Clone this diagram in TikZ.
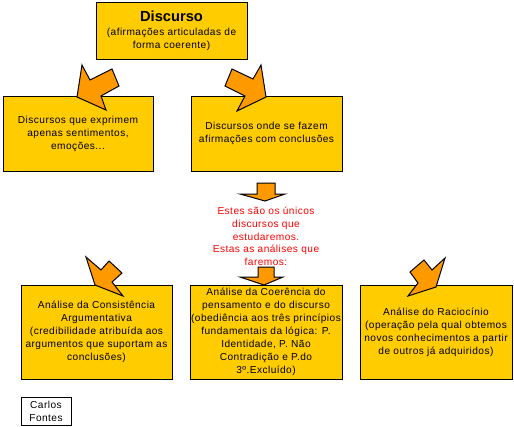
\documentclass[tikz,border=0pt]{standalone}
\usepackage{fontspec}
\setmainfont[LetterSpace=4.5]{Liberation Sans}
\newfontfamily\titlefont{Liberation Sans}
\definecolor{boxyellow}{RGB}{255,204,0}
\definecolor{arroworange}{RGB}{255,153,0}
\definecolor{textred}{RGB}{255,0,0}

\begin{document}
\begin{tikzpicture}[x=0.75pt, y=-0.75pt,
    box/.style={draw=black, fill=boxyellow, line width=0.75pt, align=center, inner sep=0pt,
      font=\fontsize{7.6}{9.75}\selectfont},
    blockarrow/.style={draw=black, fill=arroworange, line width=0.75pt, line join=miter}]
      \useasboundingbox (0,0) rectangle (514,426);

      \node[box, minimum width=113.25pt, minimum height=42.75pt] (discurso) at (171.5, 30.5)
        {{\titlefont\fontsize{11}{13}\selectfont\bfseries Discurso}\\[1pt] (afirmações articuladas de\\ forma coerente)};

      \node[box, minimum width=112.5pt, minimum height=56.25pt] (sentimentos) at (78, 133.5)
        {Discursos que exprimem\\ apenas sentimentos,\\ emoções...};
      \node[box, minimum width=113.25pt, minimum height=56.25pt] (conclusoes) at (266.5, 133.5)
        {Discursos onde se fazem\\ afirmações com conclusões};

      \node[align=center, text=textred, font=\fontsize{7.6}{9.6}\selectfont] (estudaremos) at (266, 236.5)
        {Estes são os únicos\\ discursos que\\ estudaremos.\\ Estas as análises que\\ faremos:};

      \node[box, minimum width=113.25pt, minimum height=70.5pt] (consistencia) at (96.5, 332)
        {Análise da Consistência\\ Argumentativa\\ (credibilidade atribuída aos\\ argumentos que suportam as\\ conclusões)};
      \node[box, minimum width=114pt, minimum height=70.5pt] (coerencia) at (266, 332)
        {Análise da Coerência do\\ pensamento e do discurso\\ (obediência aos três princípios\\ fundamentais da lógica: P.\\ Identidade, P. Não\\ Contradição e P.do\\ 3º.Excluído)};
      \node[box, minimum width=114pt, minimum height=70.5pt] (raciocinio) at (436, 332)
        {Análise do Raciocínio\\ (operação pela qual obtemos\\ novos conhecimentos a partir\\ de outros já adquiridos)};

      \node[box, fill=white, minimum width=37.5pt, minimum height=21pt] (autor) at (46, 411)
        {Carlos\\ Fontes};

      \draw[blockarrow] (82,65) -- (90,80) -- (112,69) -- (119,86) -- (101,96) -- (106,110) -- (77,97) -- cycle;
      \draw[blockarrow] (261,65) -- (253,79) -- (232,69) -- (225,86) -- (245,96) -- (237,111) -- (266,97) -- cycle;

      \draw[blockarrow] (257,183) -- (275,183) -- (275,194) -- (285,194) -- (265,201) -- (240,194) -- (257,194) -- cycle;
      \draw[blockarrow] (258,267) -- (274,267) -- (274,277) -- (283,277) -- (264,285) -- (240,277) -- (258,277) -- cycle;

      \draw[blockarrow] (86,257) -- (101,270) -- (109,261) -- (122,273) -- (112,282) -- (123,296) -- (95,285) -- cycle;
      \draw[blockarrow] (445,258) -- (432,270) -- (424,260) -- (410,272) -- (418,283) -- (408,296) -- (436,287) -- cycle;
    \end{tikzpicture}
\end{document}
